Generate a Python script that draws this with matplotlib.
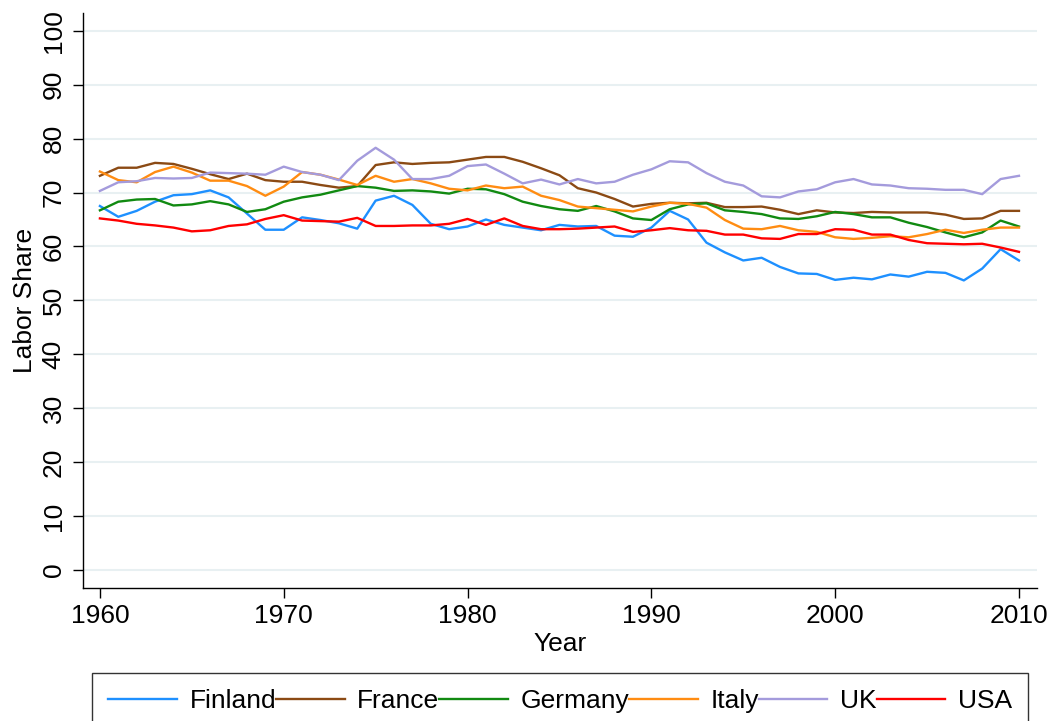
import matplotlib
matplotlib.use('Agg')
import matplotlib.pyplot as plt
import numpy as np

plt.rcParams['font.family'] = ['Liberation Sans', 'DejaVu Sans']

# Labor share by country, 1960-2010
years = np.arange(1960, 2011)

finland = [67.5, 65.5, 66.6, 68.3, 69.5, 69.7, 70.4, 69.1, 66.1, 63.1,
           63.1, 65.4, 64.9, 64.3, 63.3, 68.5, 69.4, 67.7, 64.2, 63.2,
           63.7, 65.0, 64.0, 63.5, 63.0, 64.0, 63.7, 63.8, 62.0, 61.8,
           63.5, 66.6, 65.0, 60.7, 58.9, 57.4, 57.9, 56.2, 55.0, 54.9,
           53.8, 54.2, 53.9, 54.8, 54.4, 55.3, 55.1, 53.7, 55.9, 59.5,
           57.4]
france = [73.1, 74.6, 74.6, 75.5, 75.3, 74.4, 73.4, 72.5, 73.5, 72.3,
          72.0, 72.0, 71.4, 70.9, 71.2, 75.1, 75.6, 75.3, 75.5, 75.6,
          76.1, 76.6, 76.6, 75.7, 74.5, 73.2, 70.8, 70.0, 68.8, 67.4,
          67.9, 68.1, 68.0, 68.1, 67.3, 67.3, 67.4, 66.8, 66.0, 66.7,
          66.3, 66.2, 66.4, 66.3, 66.3, 66.3, 65.9, 65.1, 65.2, 66.6,
          66.6]
germany = [66.7, 68.3, 68.7, 68.8, 67.6, 67.8, 68.4, 67.8, 66.4, 66.9,
           68.3, 69.1, 69.6, 70.4, 71.2, 70.9, 70.3, 70.4, 70.2, 69.8,
           70.7, 70.6, 69.7, 68.3, 67.5, 66.9, 66.6, 67.5, 66.5, 65.2,
           64.9, 66.9, 67.8, 68.0, 66.7, 66.4, 66.0, 65.2, 65.1, 65.6,
           66.4, 66.0, 65.4, 65.4, 64.4, 63.6, 62.6, 61.7, 62.6, 64.8,
           63.7]
italy = [73.9, 72.3, 71.9, 73.8, 74.8, 73.7, 72.2, 72.2, 71.2, 69.4,
         71.1, 73.8, 73.3, 72.4, 71.4, 73.1, 72.0, 72.5, 71.7, 70.7,
         70.4, 71.3, 70.8, 71.1, 69.4, 68.6, 67.4, 67.1, 66.8, 66.5,
         67.4, 68.1, 67.9, 67.2, 64.9, 63.3, 63.2, 63.8, 63.0, 62.7,
         61.7, 61.4, 61.6, 61.9, 61.7, 62.3, 63.1, 62.5, 63.1, 63.5,
         63.5]
uk = [70.3, 71.9, 72.1, 72.7, 72.6, 72.7, 73.7, 73.6, 73.5, 73.3,
      74.8, 73.8, 73.3, 72.3, 75.9, 78.3, 76.1, 72.5, 72.5, 73.1,
      74.9, 75.2, 73.5, 71.7, 72.4, 71.5, 72.5, 71.7, 72.0, 73.3,
      74.3, 75.8, 75.6, 73.6, 72.0, 71.3, 69.3, 69.1, 70.2, 70.6,
      71.9, 72.5, 71.5, 71.3, 70.8, 70.7, 70.5, 70.5, 69.7, 72.5,
      73.1]
usa = [65.2, 64.8, 64.2, 63.9, 63.5, 62.8, 63.0, 63.8, 64.1, 65.1,
       65.8, 64.8, 64.7, 64.6, 65.3, 63.8, 63.8, 63.9, 63.9, 64.2,
       65.1, 64.0, 65.2, 63.8, 63.2, 63.2, 63.3, 63.5, 63.7, 62.7,
       63.0, 63.4, 63.0, 62.9, 62.2, 62.2, 61.5, 61.4, 62.3, 62.3,
       63.2, 63.1, 62.2, 62.2, 61.2, 60.6, 60.5, 60.4, 60.5, 59.8,
       59.0]

series = [('Finland', finland, '#1e90ff'),
          ('France', france, '#8b4a14'),
          ('Germany', germany, '#118a11'),
          ('Italy', italy, '#ff8c12'),
          ('UK', uk, '#a49bdc'),
          ('USA', usa, '#ff0000')]

fig = plt.figure(figsize=(10.56, 7.21), dpi=100)
ax = fig.add_axes([0.0786, 0.1845, 0.9034, 0.7975])

for name, vals, col in series:
    ax.plot(years, vals, color=col, lw=1.7, label=name)

ax.set_xlim(1959.08, 2010.98)
ax.set_ylim(-3.34, 103.3)
ax.set_xticks(np.arange(1960, 2011, 10))
ax.set_yticks(np.arange(0, 101, 10))
ax.yaxis.grid(True, color='#e8f0f2', lw=1.5)
ax.set_axisbelow(True)

for s in ['top', 'right']:
    ax.spines[s].set_visible(False)
for s in ['left', 'bottom']:
    ax.spines[s].set_linewidth(1.0)

ax.tick_params(axis='both', direction='out', length=7, width=1, labelsize=19)
ax.tick_params(axis='x', pad=4.5)
ax.tick_params(axis='y', pad=5.5)
plt.setp(ax.get_yticklabels(), rotation=90, va='center')

ax.set_xlabel('Year', fontsize=19, labelpad=3)
ax.set_ylabel('Labor Share', fontsize=19, labelpad=3)

leg = fig.legend(loc='upper left', bbox_to_anchor=(92 / 1056, 0.067, 936 / 1056, 0.0),
                 mode='expand', ncol=6, fontsize=19, frameon=True, fancybox=False,
                 handlelength=2.6, handletextpad=0.47, columnspacing=0.0,
                 borderpad=0.62, borderaxespad=0.0)
leg.get_frame().set_edgecolor('black')
leg.get_frame().set_linewidth(1.0)

fig.savefig('out.png', dpi=100)
